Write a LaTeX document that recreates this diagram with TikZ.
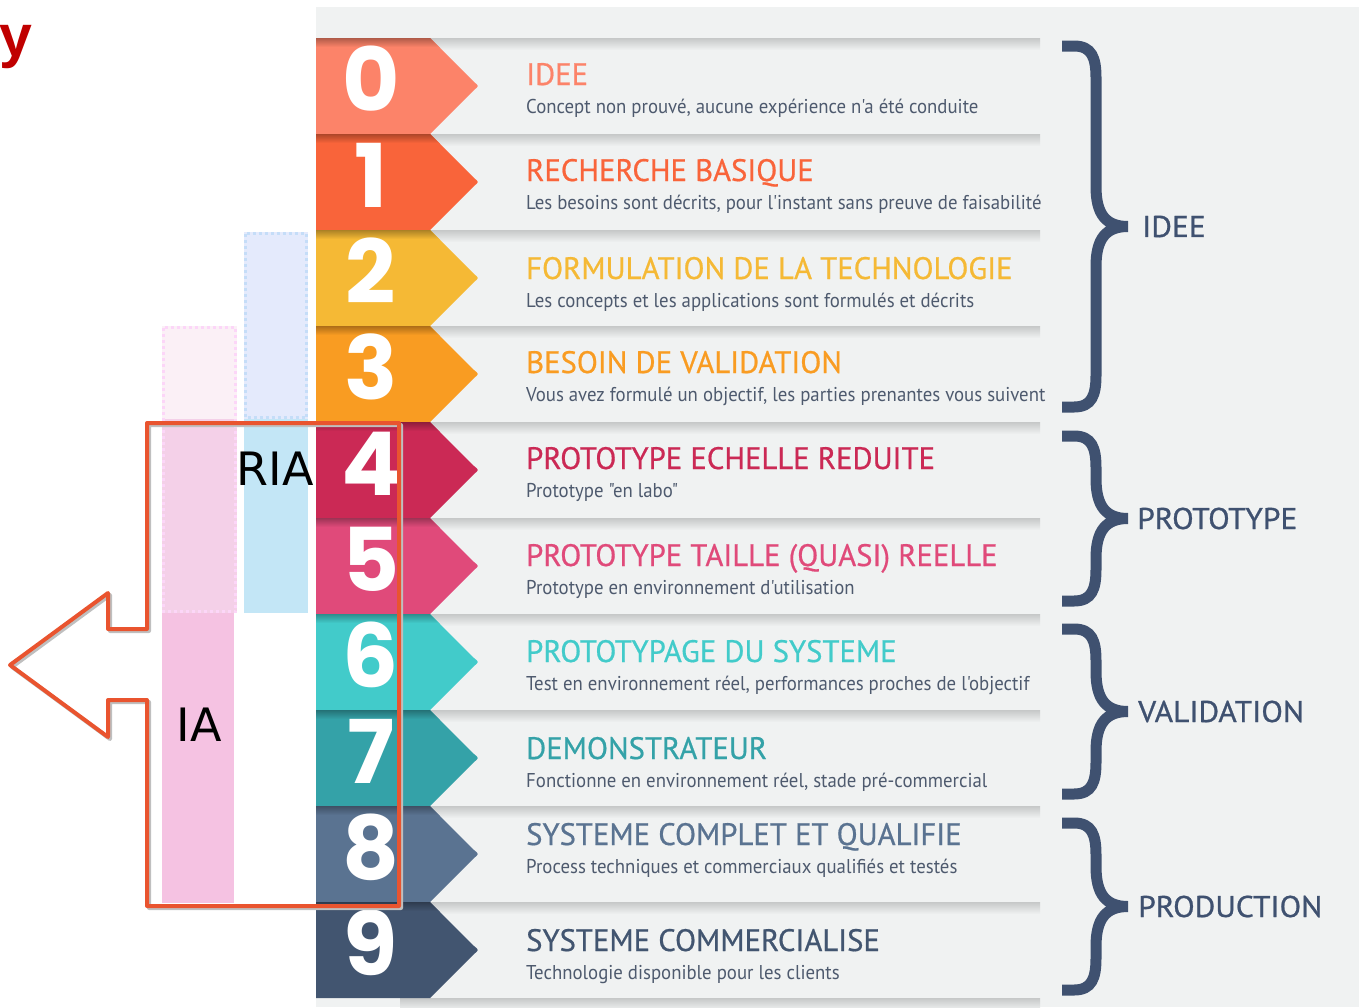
\documentclass[tikz,border=0pt]{standalone}
\usepackage{fontspec}
\newfontfamily\rowfont[FakeStretch=0.99,FakeBold=0.6]{PT Sans}
\newfontfamily\descfont[FakeStretch=0.94]{PT Sans}
\newfontfamily\bracefont[FakeStretch=1.05,FakeBold=0.8]{PT Sans}
\newfontfamily\digitfont{Poppins}
\newfontfamily\barfont{DejaVu Sans}
\newfontfamily\headfont{Liberation Sans}
\definecolor{panel}{HTML}{F0F2F2}
\definecolor{sepgrey}{HTML}{C6C8C8}
\definecolor{c0}{HTML}{FC8369}
\definecolor{c1}{HTML}{F9643A}
\definecolor{c2}{HTML}{F5B935}
\definecolor{c3}{HTML}{F99C22}
\definecolor{c4}{HTML}{CB2955}
\definecolor{c5}{HTML}{E04A7A}
\definecolor{c6}{HTML}{42CBCA}
\definecolor{c7}{HTML}{34A2A8}
\definecolor{c8}{HTML}{5A7391}
\definecolor{c9}{HTML}{425570}
\definecolor{desccol}{HTML}{4E5A6E}
\definecolor{bracecol}{HTML}{3F5170}
\definecolor{headred}{HTML}{C00000}
\definecolor{outline}{HTML}{E9542F}
\definecolor{riablue}{HTML}{C3E6F6}
\definecolor{riapale}{HTML}{E4EAFC}
\definecolor{riadot}{HTML}{C5DDF8}
\definecolor{iapink}{HTML}{F5C2E2}
\definecolor{iamid}{HTML}{F4D0E8}
\definecolor{iapale}{HTML}{FBF0F6}
\definecolor{iadot}{HTML}{FCD6F8}
\tikzset{
  digit/.style={anchor=base,inner sep=0,text=white,font=\digitfont\bfseries\fontsize{88}{88}\selectfont},
  rowtitle/.style={anchor=base west,inner sep=0,font=\rowfont\fontsize{31}{32}\selectfont},
  rowdesc/.style={anchor=base west,inner sep=0,text=desccol,font=\descfont\fontsize{20}{22}\selectfont},
  bracelabel/.style={anchor=west,inner sep=0,text=bracecol,font=\bracefont\fontsize{30}{32}\selectfont},
  barlabel/.style={inner sep=0,text=black,font=\barfont\fontsize{46}{46}\selectfont},
  dotbox/.style={line width=2.5,dash pattern=on 3pt off 3pt}
}
\begin{document}
\begin{tikzpicture}[x=1pt,y=-1pt]
  \useasboundingbox (0,0) rectangle (1359,1007);
  % Heading (cut off)
  \node[anchor=base west,inner sep=0,text=headred,font=\headfont\bfseries\fontsize{59}{60}\selectfont] (head) at (-1,56) {y};

  % Panel
  \fill[panel] (316,7) rectangle (1359,1007);

  % Separators
  \foreach \i in {0,...,10}{
    \pgfmathsetmacro\yt{38+96*\i}
    \shade[top color=sepgrey,bottom color=panel] (400,\yt) rectangle (1040,\yt+12);
  }

  % Levels
  \foreach \i/\col/\off/\title/\desc in {
    0/c0/0/IDEE/{Concept non prouvé, aucune expérience n'a été conduite},
    1/c1/0/RECHERCHE BASIQUE/{Les besoins sont décrits, pour l'instant sans preuve de faisabilité},
    2/c2/2/FORMULATION DE LA TECHNOLOGIE/{Les concepts et les applications sont formulés et décrits},
    3/c3/0/BESOIN DE VALIDATION/{Vous avez formulé un objectif, les parties prenantes vous suivent},
    4/c4/0/PROTOTYPE ECHELLE REDUITE/{Prototype "en labo"},
    5/c5/1/PROTOTYPE TAILLE (QUASI) REELLE/{Prototype en environnement d'utilisation},
    6/c6/1/PROTOTYPAGE DU SYSTEME/{Test en environnement réel, performances proches de l'objectif},
    7/c7/2/DEMONSTRATEUR/{Fonctionne en environnement réel, stade pré-commercial},
    8/c8/-8/SYSTEME COMPLET ET QUALIFIE/{Process techniques et commerciaux qualifiés et testés},
    9/c9/2/SYSTEME COMMERCIALISE/{Technologie disponible pour les clients}}{
    \pgfmathsetmacro\yt{38+96*\i}
    \pgfmathsetmacro\ym{\yt+48}
    \pgfmathsetmacro\yb{\yt+96}
    \fill[\col] (316,\yt) -- (430,\yt) -- (474,\ym-4) .. controls (479,\ym) .. (474,\ym+4) -- (430,\yb) -- (316,\yb) -- cycle;
    \begin{scope}
      \clip (316,\yt) -- (430,\yt) -- (478,\ym) -- (430,\yb) -- (316,\yb) -- cycle;
      \shade[top color=\col!70!black,bottom color=\col] (316,\yt) rectangle (480,\yt+9);
    \end{scope}
    \node[digit] (num\i) at (371,\yt+73) {\i};
    \node[rowtitle,text=\col] (title\i) at (526,\yt+47+\off) {\title};
    \node[rowdesc] (desc\i) at (526,\yt+75+\off) {\desc};
  }

  % Phases
  \foreach \yt/\yb/\lab/\lx in {40/413/IDEE/1142, 430/607/PROTOTYPE/1137, 623/800/VALIDATION/1138, 817/996/PRODUCTION/1138}{
    \pgfmathsetmacro\ym{(\yt+\yb)/2}
    \draw[bracecol,line width=11] (1062,\yt+6) -- (1074,\yt+6) .. controls (1092,\yt+6) and (1096,\yt+18) .. (1096,\yt+38)
      -- (1096,\ym-40) .. controls (1096,\ym-12) and (1106,\ym) .. (1128,\ym)
      .. controls (1106,\ym) and (1096,\ym+12) .. (1096,\ym+40)
      -- (1096,\yb-38) .. controls (1096,\yb-18) and (1092,\yb-6) .. (1074,\yb-6) -- (1062,\yb-6);
    \node[bracelabel] (phase\lab) at (\lx,\ym) {\lab};
  }

  % RIA bar
  \fill[riapale] (244,232) rectangle (308,419);
  \draw[riadot,dotbox] (245.5,233.5) rectangle (306.5,417.5);
  \fill[riablue] (244,419) rectangle (308,613);

  % IA bar
  \fill[iapale] (162,326) rectangle (237,419);
  \fill[iamid] (162,419) rectangle (237,613);
  \fill[iapink] (162,613) rectangle (234,903);
  \draw[iadot,dotbox] (163.5,327.5) rectangle (235.5,611.5);

  \node[barlabel] (ria) at (275,469) {RIA};
  \node[barlabel] (ia) at (199,725) {IA};

  % Outline with arrow
  \draw[black!25,line width=4,line join=round,shift={(2,2)}] (147,423) -- (399,423) -- (399,906) -- (147,906) -- (147,700)
    -- (108,700) -- (108,737) -- (10,665) -- (108,593) -- (108,629) -- (147,629) -- cycle;
  \draw[outline,line width=4,line join=round] (147,423) -- (399,423) -- (399,906) -- (147,906) -- (147,700)
    -- (108,700) -- (108,737) -- (10,665) -- (108,593) -- (108,629) -- (147,629) -- cycle;
\end{tikzpicture}
\end{document}
